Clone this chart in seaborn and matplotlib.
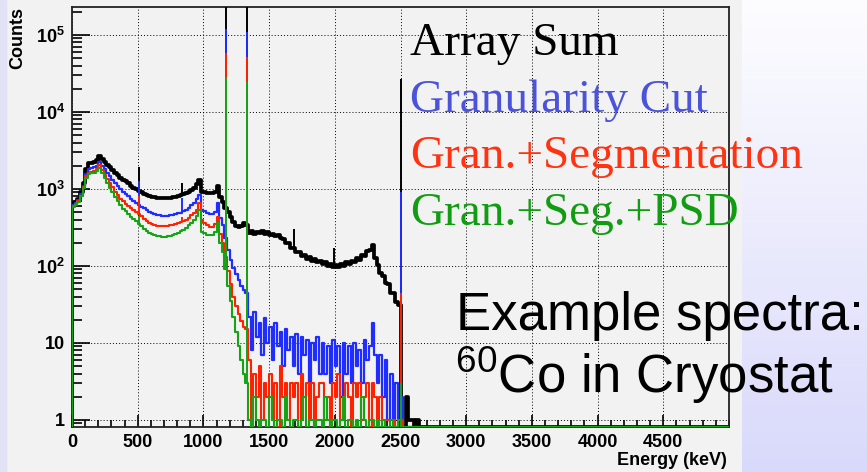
import numpy as np
import matplotlib
matplotlib.use("Agg")
import matplotlib.pyplot as plt
import seaborn as sns
from matplotlib.colors import LinearSegmentedColormap
from matplotlib.patches import Rectangle
from matplotlib.ticker import LogLocator, MultipleLocator, NullFormatter

# --- data (20 keV bins starting at 0 keV) ---
bin_width = 20
e_max = 5000

counts_sum = [
    650, 680, 750, 900, 1200, 1800, 2150, 2200, 2250, 2350,
    2650, 2450, 2250, 2050, 1900, 1750, 1600, 1500, 1400, 1320,
    1250, 1180, 1100, 1040, 990, 950, 910, 870, 840, 810,
    790, 780, 770, 760, 760, 760, 765, 770, 780, 795,
    810, 830, 850, 880, 920, 970, 1040, 1150, 1300, 900,
    900, 890, 880, 880, 900, 1100, 780, 680, 560, 500,
    430, 370, 330, 320, 330, 360, 340,
    270, 284, 262, 276, 266, 281, 260, 272, 250, 262,
    244, 252, 232, 226, 200, 196, 172, 170, 150, 150,
    134, 138, 124, 130, 116, 122, 111, 117, 106, 112,
    101, 107, 97, 104, 98, 107, 101, 111, 106, 117,
    112, 127, 121, 138, 134, 156, 160, 188, 128, 104,
    80, 75, 60, 58, 45, 44, 34, 31, 0,
    0, 2, 1, 1, 0, 1,
]
counts_gran = [
    620, 650, 720, 850, 1100, 1550, 1800, 1850, 1900, 2000,
    2250, 2000, 1800, 1600, 1450, 1320, 1200, 1090, 1000, 920,
    850, 800, 750, 700, 660, 620, 590, 560, 530, 505,
    490, 475, 462, 455, 450, 448, 450, 455, 462, 470,
    480, 492, 510, 535, 570, 610, 660, 730, 830, 540,
    510, 490, 470, 470, 500, 650, 420, 340, 230, 160,
    120, 95, 78, 65, 55, 48, 44,
    22, 8, 25, 12, 18, 7, 21, 10,
    16, 6, 18, 9, 14, 5, 15, 8, 12, 5,
    13, 4, 12, 7, 11, 3, 10, 6, 12, 4,
    10, 4, 9, 3, 11, 5, 9, 2, 10, 4,
    9, 3, 10, 5, 8, 3, 11, 6, 9, 18,
    7, 3, 7, 2, 6, 1, 4, 1, 3, 1, 2,
]
counts_seg = [
    600, 630, 700, 820, 1050, 1450, 1620, 1650, 1700, 1800,
    2020, 1750, 1520, 1330, 1180, 1050, 920, 830, 750, 690,
    640, 600, 570, 540, 500, 470, 440, 410, 385, 365,
    350, 340, 333, 330, 328, 328, 330, 335, 342, 350,
    358, 368, 380, 400, 425, 455, 490, 540, 650, 400,
    360, 335, 320, 320, 345, 430, 260, 200, 130, 85,
    58, 40, 30, 24, 19, 16, 15,
    6, 0, 4, 2, 5, 1, 3, 2,
    4, 1, 3, 0, 5, 2, 3, 1, 3, 2,
    3, 0, 4, 2, 3, 1, 3, 0, 2, 3,
    3, 1, 2, 0, 3, 2, 4, 1, 2, 3,
    2, 0, 3, 2, 3, 1, 2, 3, 0, 3,
    2, 1, 2, 0, 1, 1, 0, 1, 0, 1, 1,
]
counts_psd = [
    580, 610, 680, 800, 1020, 1400, 1570, 1600, 1630, 1700,
    1860, 1600, 1380, 1180, 1030, 900, 780, 690, 610, 555,
    510, 470, 435, 405, 380, 350, 325, 300, 282, 268,
    258, 250, 245, 242, 240, 240, 242, 246, 252, 260,
    270, 282, 296, 315, 338, 365, 400, 450, 530, 275,
    265, 255, 250, 255, 275, 360, 200, 150, 90, 55,
    35, 22, 14, 9, 6, 4, 3,
    1, 0, 2, 1, 0, 1, 1, 0,
    2, 1, 0, 1, 1, 0, 2, 1, 0, 1,
    1, 0, 1, 2, 0, 1, 1, 0, 1, 1,
    0, 2, 1, 0, 1, 1, 0, 1, 2, 0,
    1, 1, 0, 1, 0, 2, 1, 0, 1, 1,
    0, 1, 0, 1, 0, 0, 1, 0, 0, 1, 0,
]

# narrow lines (keV) and their heights per spectrum
peak_energy = [511, 835, 1173, 1332, 1690, 1995, 2505]
peak_sum = [1950, 1200, 300000, 300000, 300, 170, 27000]
peak_gran = [1250, 760, 120000, 110000, 0, 0, 900]
peak_seg = [820, 430, 59000, 52000, 0, 0, 45]
peak_psd = [440, 300, 28500, 24500, 0, 0, 3]

series_names = ["Array Sum", "Granularity Cut", "Gran.+Segmentation", "Gran.+Seg.+PSD"]
x_ticks = [0, 500, 1000, 1500, 2000, 2500, 3000, 3500, 4000, 4500]
y_ticks = [1, 10, 1e2, 1e3, 1e4, 1e5]
y_tick_labels = ["1", "10", r"$10^{2}$", r"$10^{3}$", r"$10^{4}$", r"$10^{5}$"]

line_colors = ["#000000", "#1f2dff", "#ff2200", "#16a316"]
text_colors = ["#000000", "#4a53d9", "#ff3311", "#129c12"]

sns.set_style("ticks")
plt.rcParams["font.family"] = ["Liberation Sans", "DejaVu Sans"]
plt.rcParams["mathtext.default"] = "regular"
plt.rcParams["text.color"] = "black"
plt.rcParams["xtick.color"] = "black"
plt.rcParams["ytick.color"] = "black"
plt.rcParams["axes.labelcolor"] = "black"

W, H = 867, 472


def fx(px):
    return px / W


def fy(py):
    return 1 - py / H


fig = plt.figure(figsize=(W / 100, H / 100), dpi=100, facecolor="#f2f2f2")

# slide background around the panel
bg = fig.add_axes([fx(742), 0, 1 - fx(742), 1], zorder=-5)
slide_cmap = LinearSegmentedColormap.from_list("slide", ["#fdfdff", "#d9d9fb"])
bg.imshow(np.linspace(0, 1, 256)[:, None], aspect="auto", cmap=slide_cmap)
bg.axis("off")
fig.add_artist(Rectangle((0, 0), fx(6), 1, transform=fig.transFigure,
                         color="#e2e2f6", zorder=-5))

ax = fig.add_axes([fx(72), fy(427), fx(729) - fx(72), fy(7) - fy(427)])
ax.set_facecolor("#f2f2f2")
ax.set_yscale("log")
floor = 0.81

n_bins = e_max // bin_width
edges = np.arange(n_bins + 1) * bin_width
peak_e = np.array(peak_energy)

all_counts = [counts_sum, counts_gran, counts_seg, counts_psd]
all_peaks = [peak_sum, peak_gran, peak_seg, peak_psd]
widths = [2.7, 1.6, 1.5, 1.5]

for i, (counts, peaks) in enumerate(zip(all_counts, all_peaks)):
    c = np.zeros(n_bins)
    c[:len(counts)] = counts
    c = np.where(c > 0, c, floor)  # empty bins sit on the axis, ROOT style
    xs = np.concatenate([[0], edges])
    ys = np.concatenate([[floor], c, [c[-1]]])
    sns.lineplot(x=xs, y=ys, drawstyle="steps-post", estimator=None, sort=False,
                 color=line_colors[i], lw=widths[i], ax=ax, zorder=3 + i)
    h = np.array(peaks, dtype=float)
    keep = h > 0
    base = c[peak_e // bin_width]
    ax.vlines(peak_e[keep], base[keep], h[keep], colors=line_colors[i],
              lw=1.4, zorder=3 + i)

ax.set_xlim(0, e_max)
ax.set_ylim(floor, 2.3e5)
ax.set_xlabel("")
ax.set_ylabel("")

ax.set_xticks(x_ticks, labels=[str(t) for t in x_ticks])
ax.xaxis.set_minor_locator(MultipleLocator(100))
ax.set_yticks(y_ticks, labels=y_tick_labels)
ax.yaxis.set_minor_locator(LogLocator(base=10, subs=np.arange(2, 10)))
ax.yaxis.set_minor_formatter(NullFormatter())

ax.tick_params(which="both", direction="in", top=False, right=False,
               width=1.2, color="k", labelcolor="k")
ax.tick_params(axis="y", which="major", length=13, pad=5, labelsize=13)
ax.tick_params(axis="y", which="minor", length=7)
ax.tick_params(axis="x", which="major", length=9, pad=5, labelsize=13)
ax.tick_params(axis="x", which="minor", length=5)
for lbl in ax.get_xticklabels() + ax.get_yticklabels():
    lbl.set_fontweight("bold")

ax.grid(True, which="major", color="k", lw=0.7, ls=(0, (1, 2.2)))
ax.set_axisbelow(True)
for sp in ax.spines.values():
    sp.set_color("#222222")
    sp.set_linewidth(1.3)

# axis titles, ROOT placement
fig.text(fx(18), fy(7), "Counts", rotation=90, ha="center", va="top",
         fontsize=13, fontweight="bold", color="black")
fig.text(fx(727), fy(465), "Energy (keV)", ha="right", va="baseline",
         fontsize=13, fontweight="bold", color="black")

# legend written on the slide
baselines = [55, 112, 168, 225]
for name, col, yb in zip(series_names, text_colors, baselines):
    fig.text(fx(410), fy(yb), name, color=col, fontsize=34, va="baseline",
             family=["Liberation Serif", "DejaVu Serif"])

fig.text(fx(456), fy(330), "Example spectra:", fontsize=38, va="baseline",
         color="black")
fig.text(fx(455), fy(393), r"$^{60}$Co in Cryostat", fontsize=38, va="baseline",
         color="black")

fig.savefig("out.png", dpi=100, facecolor=fig.get_facecolor())
